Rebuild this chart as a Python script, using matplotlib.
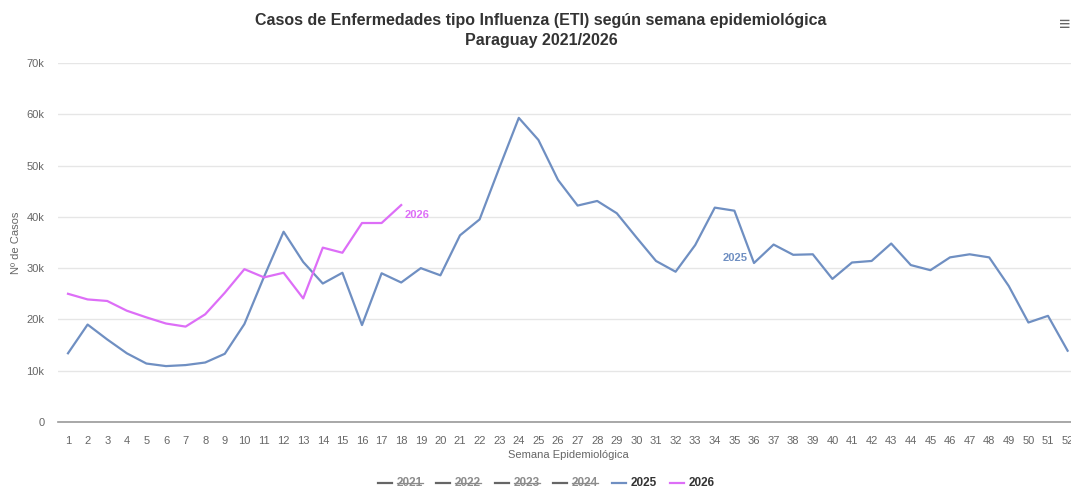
import matplotlib
matplotlib.use("Agg")
import matplotlib.pyplot as plt
from matplotlib.lines import Line2D

plt.rcParams['font.family'] = ['Liberation Sans', 'DejaVu Sans']

weeks = list(range(1, 53))
cases_2025 = [13400, 19000, 16100, 13400, 11400, 10900, 11100, 11600, 13300, 19100,
              28300, 37100, 31200, 27000, 29100, 18900, 29000, 27200, 30000, 28600,
              36400, 39500, 49500, 59300, 55000, 47200, 42200, 43100, 40700, 36000,
              31400, 29300, 34500, 41800, 41200, 31000, 34600, 32600, 32700, 27900,
              31100, 31400, 34800, 30600, 29600, 32100, 32700, 32100, 26500, 19400,
              20700, 13900]
weeks_2026 = list(range(1, 19))
cases_2026 = [25000, 23900, 23600, 21700, 20400, 19200, 18600, 21000, 25200, 29800,
              28200, 29100, 24100, 34000, 33000, 38800, 38800, 42300]
legend_years = ["2021", "2022", "2023", "2024", "2025", "2026"]
legend_hidden = [True, True, True, True, False, False]

c2025 = "#6f8fc2"
c2026 = "#dd6ef7"

W, H = 1071, 491
fig = plt.figure(figsize=(W / 100, H / 100), dpi=100)
left, right = 58.2, 1077.4
bottom, top = 422, 63
ax = fig.add_axes([left / W, (H - bottom) / H, (right - left) / W, (bottom - top) / H])

ax.plot(weeks, cases_2025, color=c2025, lw=1.6, zorder=3)
ax.plot(weeks_2026, cases_2026, color=c2026, lw=1.6, zorder=3)

ax.set_xlim(0.5, 52.5)
ax.set_ylim(0, 70000)
ax.set_xticks(weeks)
ax.set_xticklabels([str(w) for w in weeks])
ax.set_yticks(range(0, 70001, 10000))
ax.set_yticklabels(["0"] + ["%dk" % (v // 1000) for v in range(10000, 70001, 10000)])
ax.grid(axis="y", color="#e6e6e6", lw=1)
ax.set_axisbelow(True)
for s in ["top", "right", "left"]:
    ax.spines[s].set_visible(False)
ax.spines["bottom"].set_color("#999999")
ax.spines["bottom"].set_linewidth(1.2)
ax.tick_params(axis="both", length=0, colors="#666666", labelsize=8)
ax.tick_params(axis="x", pad=10)
ax.tick_params(axis="y", pad=10)

# series labels
ax.text(18.15, 40300, "2026", color=c2026, fontsize=8, fontweight="bold", ha="left", va="center")
ax.text(35.7, 32000, "2025", color=c2025, fontsize=8, fontweight="bold", ha="right", va="center")

fig.text(16 / W, (H - 243) / H, "Nº de Casos", rotation=90, color="#666666", fontsize=8,
         ha="center", va="center")
fig.text(568 / W, (H - 455) / H, "Semana Epidemiológica", color="#666666", fontsize=8,
         ha="center", va="center")

fig.text(541 / W, (H - 20) / H, "Casos de Enfermedades tipo Influenza (ETI) según semana epidemiológica",
         fontsize=11.5, fontweight="bold", color="#333333", ha="center", va="center")
fig.text(541 / W, (H - 40) / H, "Paraguay 2021/2026",
         fontsize=11.5, fontweight="bold", color="#333333", ha="center", va="center")
fig.text(1065 / W, (H - 25) / H, "≡", fontsize=14, fontweight="bold", color="#666666",
         ha="center", va="center")

# legend
xs = [378, 436, 495, 553, 612, 670]
ly = (H - 483) / H
texts = []
for x0, yr, hid in zip(xs, legend_years, legend_hidden):
    lc = "#666666" if hid else (c2025 if yr == "2025" else c2026)
    fig.add_artist(Line2D([x0 / W, (x0 + 14) / W], [ly, ly], color=lc, lw=1.6))
    t = fig.text((x0 + 19) / W, ly, yr, fontsize=8.5, fontweight="bold",
                 color="#8c8c8c" if hid else "#333333", ha="left", va="center")
    texts.append((t, hid))

fig.canvas.draw()
r = fig.canvas.get_renderer()
for t, hid in texts:
    if hid:
        bb = t.get_window_extent(r)
        yy = (bb.y0 + bb.y1) / 2
        fig.add_artist(Line2D([bb.x0 / W, bb.x1 / W], [yy / H, yy / H], color="#8c8c8c", lw=0.9))

fig.savefig("out.png", dpi=100)
